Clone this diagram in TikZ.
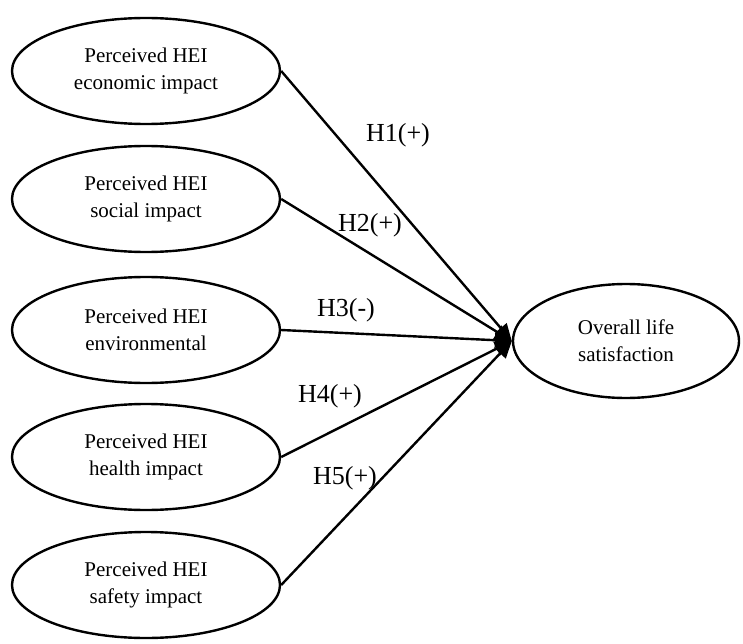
\documentclass[tikz,border=0pt]{standalone}
\usepackage{fontspec}
\setmainfont{Liberation Serif}
\usetikzlibrary{shapes.geometric,arrows.meta}
\begin{document}
\begin{tikzpicture}[x=1pt,y=-1pt,
  construct/.style={ellipse,draw,line width=2.4pt,minimum width=268pt,minimum height=106pt,inner sep=0pt,align=center,font=\fontsize{21}{27}\selectfont},
  outcome/.style={ellipse,draw,line width=2.4pt,minimum width=226pt,minimum height=114pt,inner sep=0pt,align=center,font=\fontsize{21}{27}\selectfont},
  path/.style={line width=2.4pt,-{Triangle[length=17pt,width=15pt]}},
  hyp/.style={font=\fontsize{26}{30}\selectfont,inner sep=0pt}]
\useasboundingbox (0,0) rectangle (743,644);
\node[construct] (e1) at (146,71) {Perceived HEI\\economic impact};
\node[construct] (e2) at (146,199) {Perceived HEI\\social impact};
\node[construct] (e3) at (146,330) {Perceived HEI\\environmental};
\node[construct] (e4) at (146,457) {Perceived HEI\\health impact};
\node[construct] (e5) at (146,585) {Perceived HEI\\safety impact};
\node[outcome] (out) at (626,341) {Overall life\\satisfaction};
\draw[path] (e1.east) -- (out.west);
\draw[path] (e2.east) -- (out.west);
\draw[path] (e3.east) -- (out.west);
\draw[path] (e4.east) -- (out.west);
\draw[path] (e5.east) -- (out.west);
\node[hyp] (h1) at (398,135) {H1(+)};
\node[hyp] (h2) at (370,225) {H2(+)};
\node[hyp] (h3) at (346,310) {H3(-)};
\node[hyp] (h4) at (330,396) {H4(+)};
\node[hyp] (h5) at (345,478) {H5(+)};
\end{tikzpicture}
\end{document}
